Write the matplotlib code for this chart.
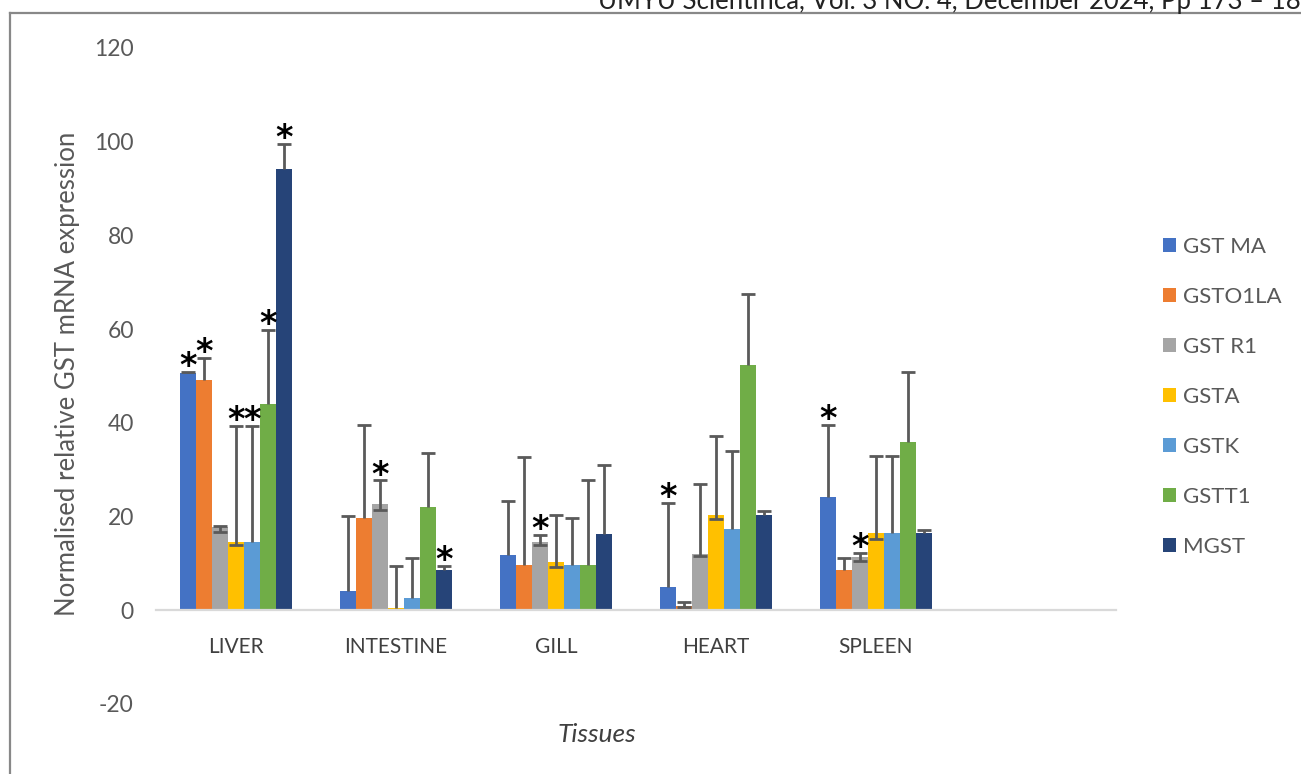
import matplotlib
matplotlib.use('Agg')
import matplotlib.pyplot as plt
from matplotlib.lines import Line2D
import numpy as np

plt.rcParams['font.family'] = ['Lato', 'DejaVu Sans']
plt.rcParams['axes.unicode_minus'] = False

# --- datos ---
tissues = ['LIVER', 'INTESTINE', 'GILL', 'HEART', 'SPLEEN', '']
genes = ['GST MA', 'GSTO1LA', 'GST R1', 'GSTA', 'GSTK', 'GSTT1', 'MGST']
colors = ['#4472C4', '#ED7D31', '#A5A5A5', '#FFC000', '#5B9BD5', '#70AD47', '#264478']

gst_ma     = [50.6, 4.1, 11.7, 5.0, 24.2]
gst_ma_up  = [0.3, 16.0, 11.6, 18.0, 15.3]
gst_ma_dn  = [0.0, 0.0, 0.0, 0.0, 0.0]
gsto1la    = [49.2, 19.8, 9.7, 0.9, 8.5]
gsto1la_up = [4.7, 19.8, 23.0, 0.9, 2.7]
gsto1la_dn = [0.0, 0.0, 0.0, 0.3, 0.0]
gstr1      = [17.8, 22.6, 14.6, 12.1, 11.4]
gstr1_up   = [0.2, 5.1, 1.4, 14.9, 0.8]
gstr1_dn   = [1.1, 1.1, 0.7, 0.6, 0.9]
gsta       = [14.6, 0.5, 10.2, 20.3, 16.5]
gsta_up    = [24.7, 8.9, 10.1, 16.8, 16.4]
gsta_dn    = [0.7, 0.0, 1.0, 0.9, 1.2]
gstk       = [14.6, 2.6, 9.7, 17.4, 16.5]
gstk_up    = [24.7, 8.6, 10.1, 16.5, 16.4]
gstk_dn    = [0.0, 0.0, 0.0, 0.0, 0.0]
gstt1      = [44.1, 22.1, 9.7, 52.3, 35.9]
gstt1_up   = [15.7, 11.5, 18.0, 15.1, 15.0]
gstt1_dn   = [0.0, 0.0, 0.0, 0.0, 0.0]
mgst       = [94.1, 8.5, 16.2, 20.3, 16.5]
mgst_up    = [5.4, 1.0, 14.8, 0.8, 0.7]
mgst_dn    = [0.0, 0.0, 0.0, 0.0, 0.0]

# asteriscos de significancia (1 = marcado)
star_ma     = [1, 0, 0, 1, 1]
star_o1la   = [1, 0, 0, 0, 0]
star_r1     = [0, 1, 1, 0, 1]
star_a      = [1, 0, 0, 0, 0]
star_k      = [1, 0, 0, 0, 0]
star_t1     = [1, 0, 0, 0, 0]
star_mgst   = [1, 1, 0, 0, 0]

values = [gst_ma, gsto1la, gstr1, gsta, gstk, gstt1, mgst]
err_up = [gst_ma_up, gsto1la_up, gstr1_up, gsta_up, gstk_up, gstt1_up, mgst_up]
err_dn = [gst_ma_dn, gsto1la_dn, gstr1_dn, gsta_dn, gstk_dn, gstt1_dn, mgst_dn]
stars = [star_ma, star_o1la, star_r1, star_a, star_k, star_t1, star_mgst]

W, H = 1301, 774
fig = plt.figure(figsize=(W / 100, H / 100), dpi=100)
ax = fig.add_axes([156 / W, 1 - 704 / H, 960 / W, 656 / H])

x = np.arange(len(values[0]))
bw = 0.1
for k, gene in enumerate(genes):
    xs = x + (k - 3) * bw
    ax.bar(xs, values[k], width=bw, color=colors[k], label=gene, zorder=2)
    eb = ax.errorbar(xs, values[k], yerr=[err_dn[k], err_up[k]], fmt='none',
                     ecolor='#5a5a5a', elinewidth=2.0, capsize=5, capthick=2.0, zorder=3)
    # tapa inferior solo donde hay error negativo
    low_cap = eb[1][0]
    idx = [i for i, d in enumerate(err_dn[k]) if d > 0]
    if idx:
        low_cap.set_markevery(idx)
    else:
        low_cap.set_visible(False)
    for i, s in enumerate(stars[k]):
        if s:
            ytop = values[k][i] + err_up[k][i]
            ax.annotate('*', xy=(xs[i], ytop), xytext=(0, -8), textcoords='offset points',
                        ha='center', va='bottom', fontsize=24, fontweight='bold',
                        color='black', family='DejaVu Sans', zorder=4)

ax.set_xlim(-0.5, 5.5)
ax.set_ylim(-20, 120)
ax.set_yticks(np.arange(-20, 121, 20))
ax.set_xticks(np.arange(len(tissues)))
ax.set_xticklabels(tissues)
for sp in ['left', 'right', 'top']:
    ax.spines[sp].set_visible(False)
ax.spines['bottom'].set_position(('data', 0))
ax.spines['bottom'].set_color('#D9D9D9')
ax.spines['bottom'].set_linewidth(1.6)
ax.tick_params(axis='x', length=0, pad=19, labelsize=15, labelcolor='#404040')
ax.tick_params(axis='y', length=0, pad=16, labelsize=16.5, labelcolor='#595959')

ax.set_ylabel('Normalised relative GST mRNA expression', fontsize=18.5, color='#595959')
ax.yaxis.set_label_coords(80 / W, 1 - 374 / H, transform=fig.transFigure)
fig.text(597 / W, 1 - 735 / H, 'Tissues', fontsize=19, style='italic',
         color='#404040', ha='center', va='center')

ax.legend(loc='center left', bbox_to_anchor=(1143 / W, 1 - 397 / H),
          bbox_transform=fig.transFigure, frameon=False, fontsize=16,
          handlelength=0.6, handleheight=0.6, handletextpad=0.3,
          labelspacing=1.35, labelcolor='#595959')

# marco y encabezado recortado
fig.add_artist(Line2D([10 / W, 1], [1 - 13 / H, 1 - 13 / H], transform=fig.transFigure,
                      color='#888888', lw=1.6))
fig.add_artist(Line2D([10 / W, 10 / W], [0, 1 - 13 / H], transform=fig.transFigure,
                      color='#888888', lw=1.6))
fig.text(1.0, 1 - 9 / H, 'UMYU Scientifica, Vol. 3 NO. 4, December 2024, Pp 173 \u2013 18',
         fontsize=18.5, ha='right', va='baseline', color='#222222')

fig.savefig('out.png', dpi=100)
